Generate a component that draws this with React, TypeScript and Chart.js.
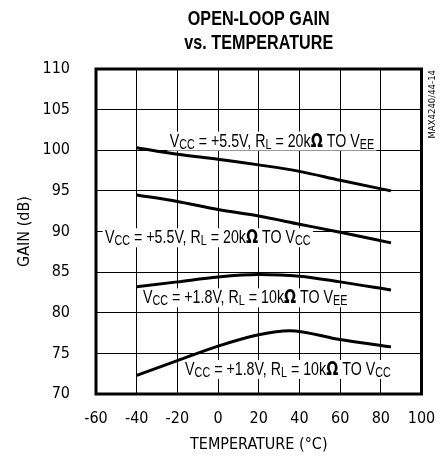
import React, { useEffect, useRef } from "react";
import { Chart, registerables } from "chart.js";

Chart.register(...registerables);

// ---- data ----
const temps = [-40, -20, 0, 20, 40, 60, 85];
const temps4 = [-40, -20, 0, 20, 35, 60, 85];
const gainVcc55Vee = [100.3, 99.5, 98.9, 98.2, 97.4, 96.3, 95.0];
const gainVcc55Vcc = [94.5, 93.7, 92.7, 91.9, 90.9, 89.9, 88.6];
const gainVcc18Vee = [83.2, 83.8, 84.4, 84.7, 84.5, 83.8, 82.8];
const gainVcc18Vcc = [72.3, 74.1, 75.9, 77.3, 77.8, 76.7, 75.8];
const xTicks = [-60, -40, -20, 0, 20, 40, 60, 80, 100];
const yTicks = [70, 75, 80, 85, 90, 95, 100, 105, 110];
const titleLines = ["OPEN-LOOP GAIN", "vs. TEMPERATURE"];
const xTitle = "TEMPERATURE (°C)";
const yTitle = "GAIN (dB)";
const sideNote = "MAX4240/44-14";

type Seg = { t: string; sub?: boolean; sym?: boolean };
const curveLabels: { segs: Seg[]; x: number; y: number }[] = [
  {
    segs: [
      { t: "V" }, { t: "CC", sub: true }, { t: " = +5.5V, R" }, { t: "L", sub: true },
      { t: " = 20k" }, { t: "Ω", sym: true }, { t: " TO V" }, { t: "EE", sub: true },
    ],
    x: -23.8, y: 100.45,
  },
  {
    segs: [
      { t: "V" }, { t: "CC", sub: true }, { t: " = +5.5V, R" }, { t: "L", sub: true },
      { t: " = 20k" }, { t: "Ω", sym: true }, { t: " TO V" }, { t: "CC", sub: true },
    ],
    x: -55.6, y: 88.55,
  },
  {
    segs: [
      { t: "V" }, { t: "CC", sub: true }, { t: " = +1.8V, R" }, { t: "L", sub: true },
      { t: " = 10k" }, { t: "Ω", sym: true }, { t: " TO V" }, { t: "EE", sub: true },
    ],
    x: -36.9, y: 81.16,
  },
  {
    segs: [
      { t: "V" }, { t: "CC", sub: true }, { t: " = +1.8V, R" }, { t: "L", sub: true },
      { t: " = 10k" }, { t: "Ω", sym: true }, { t: " TO V" }, { t: "CC", sub: true },
    ],
    x: -16.2, y: 72.34,
  },
];

const AXFAM = "'DejaVu Sans Condensed', 'Liberation Sans', sans-serif";
const TXFAM = "'Liberation Sans', Arial, sans-serif";
const SQUEEZE = 0.77;

const decorPlugin = {
  id: "decor",
  afterDatasetsDraw(chart: any) {
    const { ctx, chartArea: a, scales } = chart;
    ctx.save();
    // frame
    ctx.strokeStyle = "#000";
    ctx.lineWidth = 3;
    ctx.strokeRect(a.left, a.top, a.right - a.left, a.bottom - a.top);

    // curve labels
    const mainFont = `18.5px ${TXFAM}`;
    const subFont = `14px ${TXFAM}`;
    const symFont = `bold 18.5px 'DejaVu Sans', sans-serif`;
    curveLabels.forEach((lab) => {
      const x0 = scales.x.getPixelForValue(lab.x);
      const yb = scales.y.getPixelForValue(lab.y);
      let w = 0;
      lab.segs.forEach((s) => {
        ctx.font = s.sub ? subFont : s.sym ? symFont : mainFont;
        w += ctx.measureText(s.t).width;
      });
      ctx.save();
      ctx.translate(x0, yb);
      ctx.scale(SQUEEZE, 1);
      ctx.fillStyle = "#fff";
      ctx.fillRect(-3, -15, w + 6, 19);
      let x = 0;
      ctx.fillStyle = "#000";
      ctx.textBaseline = "alphabetic";
      ctx.textAlign = "left";
      lab.segs.forEach((s) => {
        ctx.font = s.sub ? subFont : s.sym ? symFont : mainFont;
        ctx.fillText(s.t, x, s.sub ? 2 : 0);
        x += ctx.measureText(s.t).width;
      });
      ctx.restore();
    });

    // title
    const cx = (a.left + a.right) / 2;
    ctx.save();
    ctx.font = `bold 21px ${TXFAM}`;
    ctx.textAlign = "center";
    ctx.textBaseline = "middle";
    ctx.fillStyle = "#000";
    ctx.translate(cx, 0);
    ctx.scale(SQUEEZE, 1);
    ctx.fillText(titleLines[0], 0, 19);
    ctx.fillText(titleLines[1], 0, 43);
    ctx.restore();

    // side note
    ctx.font = `9.5px ${AXFAM}`;
    ctx.fillStyle = "#000";
    ctx.translate(433, 70);
    ctx.rotate(-Math.PI / 2);
    ctx.textAlign = "right";
    ctx.textBaseline = "middle";
    ctx.fillText(sideNote, 0, 0);
    ctx.restore();
  },
};

export default function App() {
  const ref = useRef<HTMLCanvasElement>(null);
  useEffect(() => {
    const mk = (xs: number[], ys: number[]) => xs.map((x, i) => ({ x, y: ys[i] }));
    const ds = (d: any) => ({
      data: d,
      borderColor: "#000",
      borderWidth: 3,
      pointRadius: 0,
      cubicInterpolationMode: "monotone",
      fill: false,
    });
    const chart = new Chart(ref.current!, {
      type: "line",
      data: {
        datasets: [
          ds(mk(temps, gainVcc55Vee)),
          ds(mk(temps, gainVcc55Vcc)),
          ds(mk(temps, gainVcc18Vee)),
          ds(mk(temps4, gainVcc18Vcc)),
        ],
      },
      options: {
        animation: false,
        responsive: false,
        devicePixelRatio: 1,
        layout: { padding: { top: 69, right: 22.5, bottom: 0, left: 0 } },
        plugins: { legend: { display: false }, tooltip: { enabled: false }, title: { display: false } },
        scales: {
          x: {
            type: "linear",
            min: -60,
            max: 100,
            afterBuildTicks: (s: any) => { s.ticks = xTicks.map((v) => ({ value: v })); },
            afterFit: (s: any) => { s.height = 62; },
            grid: { color: "#000", lineWidth: 1, drawTicks: true, tickLength: 12, tickColor: "rgba(0,0,0,0)" },
            border: { display: false },
            ticks: { color: "#000", font: { family: AXFAM, size: 16 }, padding: 3, maxRotation: 0 },
            title: { display: true, text: xTitle, color: "#000", font: { family: AXFAM, size: 16 }, padding: { top: 0, bottom: 1.5 } },
          },
          y: {
            type: "linear",
            min: 70,
            max: 110,
            afterBuildTicks: (s: any) => { s.ticks = yTicks.map((v) => ({ value: v })); },
            afterFit: (s: any) => { s.width = 96; },
            grid: { color: "#000", lineWidth: 1, drawTicks: true, tickLength: 24, tickColor: "rgba(0,0,0,0)" },
            border: { display: false },
            ticks: { color: "#000", font: { family: AXFAM, size: 16 }, padding: 2 },
            title: { display: true, text: yTitle, color: "#000", font: { family: AXFAM, size: 16 }, padding: { top: 15, bottom: 0 } },
          },
        },
      },
      plugins: [decorPlugin],
    } as any);
    return () => chart.destroy();
  }, []);
  return (
    <div style={{ position: "fixed", left: 0, top: 0, width: 444, height: 456, background: "#fff" }}>
      <canvas ref={ref} width={444} height={456} style={{ width: 444, height: 456 }} />
    </div>
  );
}
